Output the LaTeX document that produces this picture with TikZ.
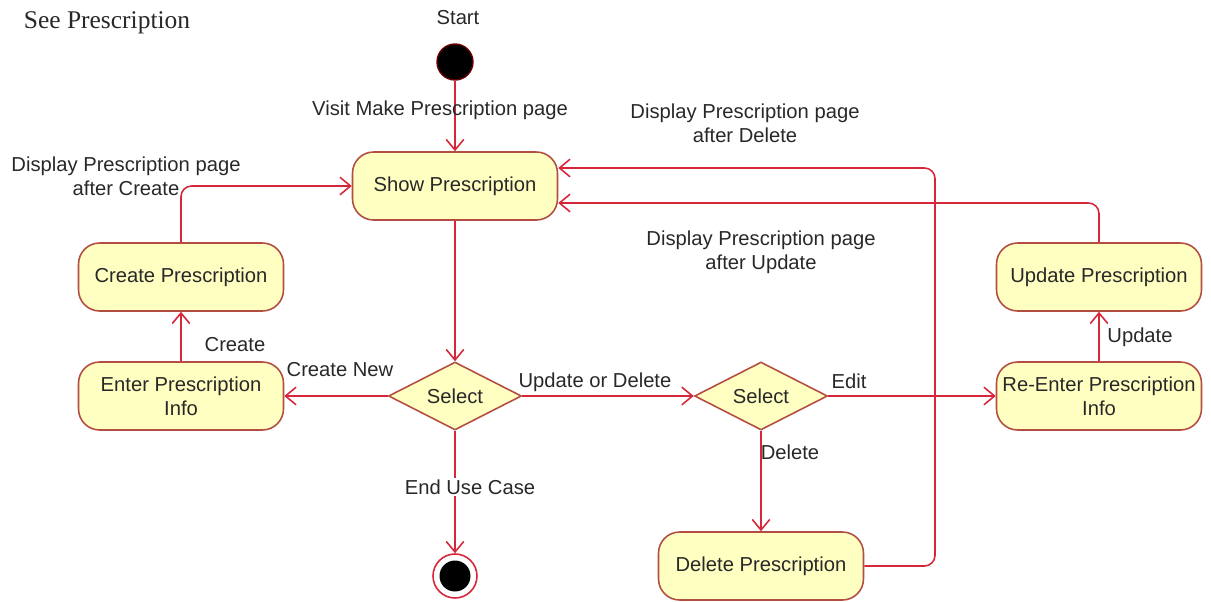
\documentclass[tikz,border=0pt]{standalone}
\usepackage{fontspec}
\setmainfont{Liberation Sans}
\newfontfamily\titlefont{Liberation Serif}
\usepackage{tikz}
\usetikzlibrary{arrows.meta,calc,positioning,shapes.geometric}
\definecolor{flowred}{RGB}{214,38,58}
\definecolor{boxline}{RGB}{178,78,66}
\definecolor{boxfill}{RGB}{255,255,194}
\definecolor{txtgray}{RGB}{40,40,40}
\tikzset{%
	activity/.style = {draw=boxline, fill=boxfill, rectangle, rounded corners=12pt, line width=0.9pt, minimum width=4.1cm, minimum height=1.36cm, inner xsep=1pt, text centered, align=center, text=txtgray},
	decision/.style = {draw=boxline, fill=boxfill, diamond, aspect=2, minimum width=2.66cm, minimum height=1.36cm, inner sep=0pt, line width=0.9pt, text=txtgray},
	startdot/.style = {circle, draw=black!60!red, fill=black, minimum size=0.72cm, line width=0.8pt},
	enddot/.style   = {circle, draw=flowred, fill=white, minimum size=0.88cm, line width=0.9pt, path picture={\fill[black] (path picture bounding box.center) circle (0.31cm);}},
	flow/.style     = {draw=flowred, line width=0.9pt, rounded corners=6pt, -{Straight Barb[length=6pt,width=10pt]}},
	lbl/.style      = {text=txtgray, align=center, inner sep=1pt},
}

\begin{document}
\begin{tikzpicture}[x=0.02cm, y=-0.02cm, font=\fontsize{11.5}{13.6}\selectfont]
	\useasboundingbox (0,0) rectangle (1211,602);
	\node[text=txtgray, font=\titlefont\fontsize{14.5}{17}\selectfont] (title) at (107,23) {See Prescription};
	
	\node[startdot] (start) at (455,62) {};
	\node[activity] (show) at (455,186) {Show Prescription};
	\node[activity] (create) at (181,277) {Create Prescription};
	\node[activity] (enter) at (181,396) {Enter Prescription\\Info};
	\node[decision] (sel1) at (455,396) {Select};
	\node[decision] (sel2) at (761,396) {Select};
	\node[activity] (reenter) at (1099,396) {Re-Enter Prescription\\Info};
	\node[activity] (update) at (1099,277) {Update Prescription};
	\node[activity] (delete) at (761,566) {Delete Prescription};
	\node[enddot] (end) at (455,576) {};
	
	\coordinate (dtop) at (935,168);
	
	\draw[flow] (start) -- (show);
	\draw[flow] (show) -- (sel1);
	\draw[flow] (sel1) -- (enter);
	\draw[flow] (sel1) -- (sel2);
	\draw[flow] (sel1) -- (end);
	\draw[flow] (enter) -- (create);
	\draw[flow] (create.north) |- (show.west);
	\draw[flow] (sel2) -- (reenter);
	\draw[flow] (sel2) -- (delete);
	\draw[flow] (reenter) -- (update);
	\draw[flow] (update.north) |- ($(show.east)+(0,17)$);
	\draw[flow] (delete.east) -| (dtop) -- ($(show.east)+(0,-18)$);
	
	% labels on the transitions
	\node[lbl] (lstart) at (458,18) {Start};
	\node[lbl] (lvisit) at (440,110) {Visit Make Prescription page};
	\node[lbl] (lcreated) at (126,176) {Display Prescription page\\after Create};
	\node[lbl] (ldeleted) at (745,123) {Display Prescription page\\after Delete};
	\node[lbl] (lupdated) at (761,252) {Display Prescription page\\after Update};
	\node[lbl] (lcreate) at (235,345) {Create};
	\node[lbl] (lnew) at (340,370) {Create New};
	\node[lbl] (lupdel) at (595,382) {Update or Delete};
	\node[lbl] (ledit) at (849,381) {Edit};
	\node[lbl] (ldelete) at (790,452) {Delete};
	\node[lbl] (lupdate) at (1140,337) {Update};
	\node[lbl, fill=white] (lendcase) at (470,487) {End Use Case};
\end{tikzpicture}
\end{document}
